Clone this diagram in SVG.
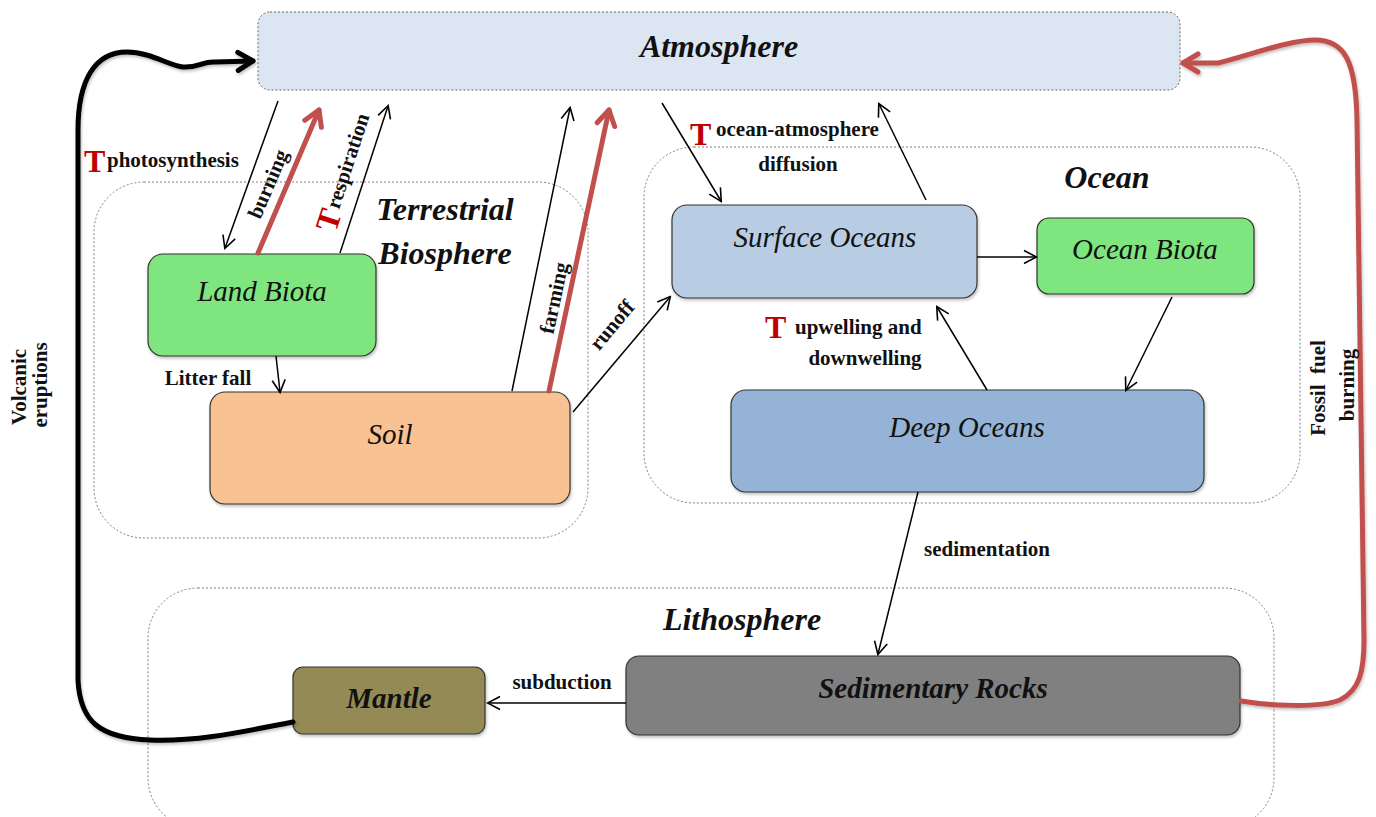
<svg xmlns="http://www.w3.org/2000/svg" width="1376" height="817" viewBox="0 0 1376 817">
<defs>
<style>
.container{fill:none;stroke:#7f7f7f;stroke-width:1;stroke-dasharray:2,2}
.node{stroke:#333;stroke-width:1.2}
.nlabel{font-family:"Liberation Serif","Times New Roman",serif;font-style:italic;font-size:29px;fill:#111;text-anchor:middle;dominant-baseline:central}
.big{font-family:"Liberation Serif","Times New Roman",serif;font-style:italic;font-weight:bold;font-size:32px;fill:#111;text-anchor:middle;dominant-baseline:central}
.lbl{font-family:"Liberation Serif","Times New Roman",serif;font-weight:bold;font-size:21px;fill:#111}
.T{font-family:"Liberation Serif","Times New Roman",serif;font-weight:bold;font-size:32px;fill:#c00000}
.thin{fill:none;stroke:#000;stroke-width:1.5}
.red{fill:none;stroke:#c0504d;stroke-width:5;stroke-linecap:round;stroke-linejoin:round}
.blk{fill:none;stroke:#000;stroke-width:5;stroke-linecap:round;stroke-linejoin:round}
</style>
<marker id="ah" viewBox="0 0 16 16" markerWidth="16" markerHeight="16" refX="14" refY="8" orient="auto" markerUnits="userSpaceOnUse">
<path d="M2,1.5 L14.5,8 L2,14.5" fill="none" stroke="#000" stroke-width="1.6"/>
</marker>
<marker id="ahRed" viewBox="0 0 24 24" markerWidth="24" markerHeight="24" refX="20" refY="12" orient="auto" markerUnits="userSpaceOnUse">
<path d="M5,3 L20,12 L5,21" fill="none" stroke="#c0504d" stroke-width="5" stroke-linecap="round" stroke-linejoin="round"/>
</marker>
<marker id="ahBlk" viewBox="0 0 24 24" markerWidth="24" markerHeight="24" refX="20" refY="12" orient="auto" markerUnits="userSpaceOnUse">
<path d="M5,3 L20,12 L5,21" fill="none" stroke="#000" stroke-width="5" stroke-linecap="round" stroke-linejoin="round"/>
</marker>
<filter id="sh" x="-10%" y="-10%" width="120%" height="130%">
<feDropShadow dx="1" dy="2" stdDeviation="1.5" flood-color="#000" flood-opacity="0.25"/>
</filter>
</defs>
<rect width="1376" height="817" fill="#fff"/>

<g id="terrestrial-container"><rect class="container" x="94" y="182" width="494" height="356" rx="50"/>
<text class="big" x="445" y="209">Terrestrial</text><text class="big" x="445" y="253">Biosphere</text></g>
<g id="ocean-container"><rect class="container" x="644" y="147" width="656" height="356" rx="50"/>
<text class="big" x="1107" y="177">Ocean</text></g>
<g id="lithosphere-container"><rect class="container" x="148" y="588" width="1126" height="240" rx="50"/>
<text class="big" x="742" y="619">Lithosphere</text></g>

<g id="atmosphere"><rect x="258" y="12" width="922" height="78" rx="12" fill="#dce6f2" stroke="#666" stroke-width="1" stroke-dasharray="2,2"/>
<text class="big" x="719" y="46">Atmosphere</text></g>
<g id="land-biota"><rect class="node" filter="url(#sh)" x="148" y="254" width="228" height="102" rx="15" fill="#7fe57f"/>
<text class="nlabel" x="262" y="291">Land Biota</text></g>
<g id="soil"><rect class="node" filter="url(#sh)" x="210" y="392" width="360" height="112" rx="15" fill="#f8c292"/>
<text class="nlabel" x="390" y="434">Soil</text></g>
<g id="surface-oceans"><rect class="node" filter="url(#sh)" x="672" y="205" width="305" height="93" rx="15" fill="#b8cce4"/>
<text class="nlabel" x="825" y="237">Surface Oceans</text></g>
<g id="ocean-biota"><rect class="node" filter="url(#sh)" x="1037" y="218" width="217" height="76" rx="12" fill="#7fe57f"/>
<text class="nlabel" x="1145" y="249">Ocean Biota</text></g>
<g id="deep-oceans"><rect class="node" filter="url(#sh)" x="731" y="390" width="473" height="102" rx="15" fill="#95b3d7"/>
<text class="nlabel" x="967" y="427">Deep Oceans</text></g>
<g id="sedimentary-rocks"><rect class="node" filter="url(#sh)" x="626" y="656" width="614" height="79" rx="13" fill="#808080"/>
<text class="big" style="font-size:29px" x="933" y="688">Sedimentary Rocks</text></g>
<g id="mantle"><rect class="node" filter="url(#sh)" x="293" y="667" width="192" height="67" rx="10" fill="#948a54"/>
<text class="big" style="font-size:29px" x="389" y="698">Mantle</text></g>

<g id="connectors">
<line class="thin" x1="278" y1="101" x2="225" y2="248" marker-end="url(#ah)"/>
<line class="red" x1="258" y1="253" x2="319" y2="110" marker-end="url(#ahRed)"/>
<line class="thin" x1="340" y1="253" x2="388" y2="106" marker-end="url(#ah)"/>
<line class="thin" x1="512" y1="391" x2="570" y2="108" marker-end="url(#ah)"/>
<line class="red" x1="549" y1="391" x2="609" y2="110" marker-end="url(#ahRed)"/>
<line class="thin" x1="573" y1="412" x2="670" y2="297" marker-end="url(#ah)"/>
<line class="thin" x1="662" y1="103" x2="721" y2="201" marker-end="url(#ah)"/>
<line class="thin" x1="926" y1="200" x2="879" y2="104" marker-end="url(#ah)"/>
<line class="thin" x1="977" y1="257" x2="1036" y2="257" marker-end="url(#ah)"/>
<line class="thin" x1="1172" y1="297" x2="1126" y2="390" marker-end="url(#ah)"/>
<line class="thin" x1="987" y1="390" x2="937" y2="307" marker-end="url(#ah)"/>
<line class="thin" x1="276" y1="356" x2="280" y2="392" marker-end="url(#ah)"/>
<line class="thin" x1="918" y1="492" x2="878" y2="654" marker-end="url(#ah)"/>
<line class="thin" x1="626" y1="703" x2="488" y2="703" marker-end="url(#ah)"/>
<path class="blk" filter="url(#sh)" d="M293,722 C250,730 200,742 150,740 C100,738 80,722 78,680 L78,130 C78,80 95,52 127,52 C150,52 170,66 183,67 C198,68 203,61 215,62 L253,61" marker-end="url(#ahBlk)"/>
<path class="red" filter="url(#sh)" d="M1241,701 C1270,706 1320,708 1340,700 C1360,690 1364,670 1364,640 L1357,120 C1356,62 1345,40 1315,40 C1290,40 1250,55 1218,63 L1183,63" marker-end="url(#ahRed)"/>
</g>

<g id="labels">
<text class="T" x="84" y="172">T</text><text class="lbl" x="107" y="167">photosynthesis</text>
<text class="lbl" transform="translate(268,184) rotate(-67)" text-anchor="middle" dominant-baseline="central">burning</text>
<text class="lbl" transform="translate(344,172) rotate(-72)" text-anchor="middle" dominant-baseline="central"><tspan class="T">T</tspan><tspan dx="2">respiration</tspan></text>
<text class="lbl" transform="translate(554,298) rotate(-78)" text-anchor="middle" dominant-baseline="central">farming</text>
<text class="lbl" transform="translate(612,325) rotate(-50)" text-anchor="middle" dominant-baseline="central">runoff</text>
<text class="lbl" x="208" y="385" text-anchor="middle">Litter fall</text>
<text class="T" x="690" y="145">T</text><text class="lbl" x="716" y="136">ocean-atmosphere</text>
<text class="lbl" x="798" y="171" text-anchor="middle">diffusion</text>
<text class="T" x="765" y="338">T</text><text class="lbl" x="795" y="334">upwelling and</text>
<text class="lbl" x="865" y="365" text-anchor="middle">downwelling</text>
<text class="lbl" x="987" y="556" text-anchor="middle">sedimentation</text>
<text class="lbl" x="562" y="689" text-anchor="middle">subduction</text>
<text class="lbl" transform="translate(19,387) rotate(-90)" text-anchor="middle" dominant-baseline="central">Volcanic</text>
<text class="lbl" transform="translate(40,385) rotate(-90)" text-anchor="middle" dominant-baseline="central">eruptions</text>
<text class="lbl" transform="translate(1318,388) rotate(-90)" text-anchor="middle" dominant-baseline="central" xml:space="preserve">Fossil  fuel</text>
<text class="lbl" transform="translate(1347,385) rotate(-90)" text-anchor="middle" dominant-baseline="central">burning</text>
</g>
</svg>
